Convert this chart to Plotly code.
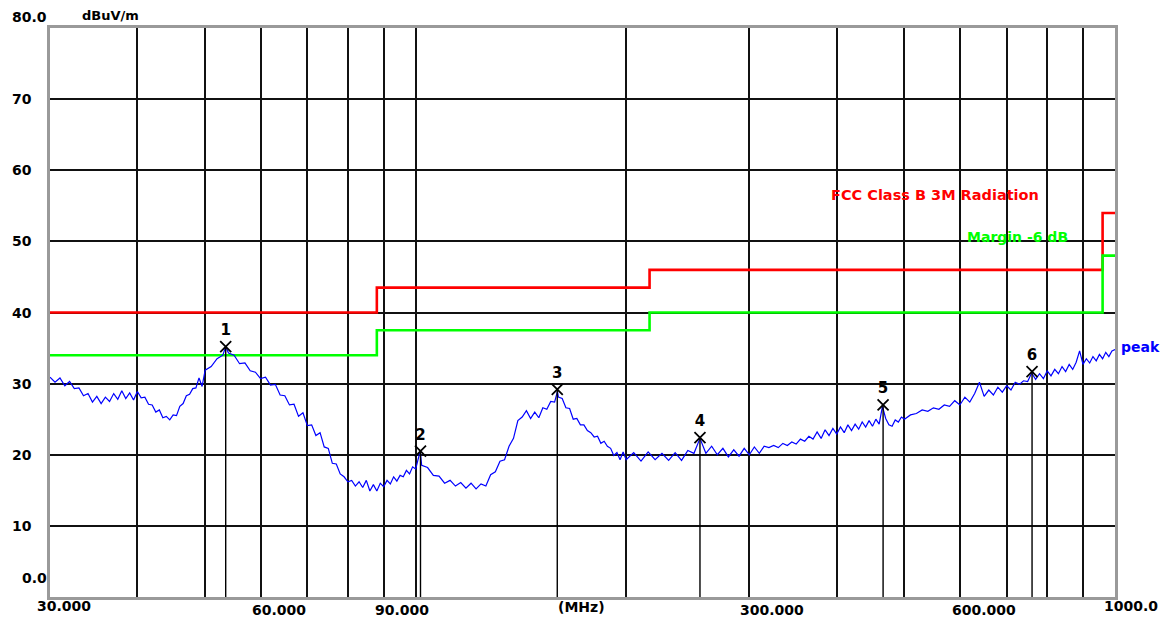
import plotly.graph_objects as go

# ---------------- data ----------------
freq_mhz = [
    30.0, 30.5, 31.0, 31.5, 32.0, 32.5, 33.0, 33.5, 34.0, 34.5, 35.0, 35.5, 36.0, 36.5, 37.0, 37.5,
    38.0, 38.5, 39.0, 39.5, 40.0, 40.5, 41.0, 41.5, 42.0, 42.5, 43.0, 43.5, 44.0, 44.5, 45.0, 45.5,
    46.0, 46.5, 47.0, 47.5, 48.0, 48.5, 49.0, 49.5, 50.0,
    51, 52, 53, 53.5, 54, 55, 56, 57, 58, 59, 60, 61, 62, 63, 64, 65, 66, 67, 68, 69, 70,
    71, 72, 73, 74, 75, 76, 77, 78, 79, 80, 81, 82, 83, 84, 85, 86, 87, 88, 89, 90,
    91, 92, 93, 94, 95, 96, 97, 98, 99, 100,
    101.5, 102, 104, 106, 108, 110, 112, 114, 116, 118, 120, 122, 124, 126, 128, 130, 132, 134,
    136, 138, 140, 142, 144, 146, 148, 150, 152, 154, 156, 158, 159.5, 160, 162, 164, 166, 168,
    170, 172, 174, 176, 178, 180, 182, 184, 186, 188, 190, 192, 194, 196, 198, 200,
    205, 210, 215, 220, 225, 230, 235, 240, 245, 250, 255, 260, 265, 270, 275, 280, 285, 290,
    295, 300, 305, 310, 315, 320, 325, 330, 335, 340, 345, 350, 355, 360, 365, 370, 375, 380,
    385, 390, 395, 400, 405, 410, 415, 420, 425, 430, 435, 440, 445, 450, 455, 460, 465, 470,
    475, 480, 485, 490, 495, 500,
    510, 520, 530, 540, 550, 560, 570, 580, 590, 600, 610, 620, 630, 640, 650, 660, 670, 680,
    690, 700, 710, 720, 730, 740, 750, 760, 770, 780, 790, 800, 810, 820, 830, 840, 850, 860,
    870, 880, 890, 900, 910, 920, 930, 940, 950, 960, 970, 980, 990, 1000,
]
peak_dbuv = [
    30.9, 30.2, 30.8, 29.7, 30.3, 29.3, 29.4, 28.3, 28.6, 27.4, 28.2, 27.2, 28.1, 27.5, 28.6, 27.8,
    29.0, 27.9, 28.7, 27.7, 28.9, 28.0, 28.1, 27.1, 27.0, 26.0, 26.3, 25.2, 25.4, 24.9, 25.6, 25.5,
    26.8, 27.2, 28.3, 28.5, 29.3, 29.4, 30.8, 29.6, 31.9,
    32.4, 33.5, 34.0, 35.2, 34.3, 34.0, 32.8, 32.9, 31.8, 31.6, 30.7, 30.9, 29.8, 29.9, 28.4, 28.3,
    27.0, 27.1, 25.4, 25.9, 24.1,
    24.2, 22.7, 23.1, 21.1, 20.9, 18.8, 18.7, 17.3, 16.9, 16.2, 16.4, 15.6, 16.2, 15.4, 16.4, 14.9,
    15.8, 14.9, 16.0, 15.5,
    16.4, 15.9, 16.9, 16.3, 17.1, 16.9, 17.8, 17.3, 18.3, 18.0,
    20.5, 18.5, 18.2, 17.1, 17.0, 16.0, 16.4, 15.6, 16.1, 15.3, 16.0, 15.2, 15.9, 15.6, 17.2, 17.6,
    19.1, 19.3,
    21.2, 22.3, 24.8, 25.3, 26.2, 25.1, 26.0, 25.2, 26.6, 26.4, 27.5, 27.4, 28.9, 28.1, 27.9, 26.6,
    26.5, 25.0,
    25.1, 24.2, 24.2, 23.4, 23.1, 22.5, 22.6, 21.6, 21.9, 21.2, 20.9, 19.9, 20.3, 19.3, 20.4, 19.3,
    20.3, 19.1, 20.4, 19.3, 20.2, 19.2, 20.3, 19.2, 20.6, 20.2, 22.3, 20.2, 21.2, 20.0, 20.9, 19.7,
    20.7, 19.8,
    20.9, 20.0, 21.1, 20.2, 21.2, 21.0, 21.3, 21.0, 21.6, 21.3, 21.8, 21.5, 22.2, 21.9, 22.6, 22.2,
    23.2, 22.3,
    23.5, 22.7, 23.7, 22.9, 23.9, 23.1, 24.2, 23.4, 24.3, 23.6, 24.6, 23.9, 24.8, 24.0, 25.0, 24.3,
    26.8, 25.1,
    24.2, 24.0, 24.9, 24.6, 25.3, 25.0,
    25.6, 25.8, 26.3, 26.1, 26.6, 26.4, 27.0, 26.8, 27.6, 27.0, 28.1, 27.4, 28.6, 30.2, 28.2, 29.1,
    28.4, 29.5,
    28.8, 29.7, 29.1, 30.2, 29.9, 30.4, 30.3, 31.5, 30.6, 31.4, 30.7, 31.8, 31.1, 32.0, 31.4, 32.4,
    31.7, 32.7,
    32.0, 33.0, 34.6, 32.7, 33.5, 32.9, 33.8, 33.2, 34.1, 33.5, 34.4, 33.8, 34.6, 34.8,
]

limit_freq = [30, 88, 216, 960, 1000]
fcc_limit = [40.0, 43.5, 46.0, 54.0, 54.0]
margin_limit = [34.0, 37.5, 40.0, 48.0, 48.0]

marker_ids = ["1", "2", "3", "4", "5", "6"]
marker_freq = [53.5, 101.6, 159.4, 255.0, 466.0, 761.0]
marker_level = [35.2, 20.5, 29.2, 22.4, 27.0, 31.7]

grid_freqs = [30, 40, 50, 60, 70, 80, 90, 100, 200, 300, 400, 500, 600, 700, 800, 900, 1000]
x_tick_text = ["30.000", "60.000", "90.000", "(MHz)", "300.000", "600.000", "1000.0"]
y_tick_values = [80, 70, 60, 50, 40, 30, 20, 10, 0]
y_tick_text = ["80.0", "70", "60", "50", "40", "30", "20", "10", "0.0"]

# ---------------- styling / layout positions ----------------
FONT = "DejaVu Sans"
L, R, T, B = 50, 51, 28, 24
W, H = 1166, 621

fig = go.Figure()

fig.add_trace(go.Scatter(x=limit_freq, y=fcc_limit, mode="lines", line_shape="hv",
                         line=dict(color="#ff0000", width=2.6), hoverinfo="skip"))
fig.add_trace(go.Scatter(x=limit_freq, y=margin_limit, mode="lines", line_shape="hv",
                         line=dict(color="#00ff00", width=2.6), hoverinfo="skip"))
fig.add_trace(go.Scatter(x=freq_mhz, y=peak_dbuv, mode="lines",
                         line=dict(color="#0000ff", width=1.2)))

# drop lines from markers to the bottom axis
dx, dy = [], []
for f, v in zip(marker_freq, marker_level):
    dx += [f, f, None]
    dy += [v, 0, None]
fig.add_trace(go.Scatter(x=dx, y=dy, mode="lines", line=dict(color="black", width=1.4),
                         hoverinfo="skip"))

fig.add_trace(go.Scatter(x=marker_freq, y=marker_level, mode="markers+text",
                         text=marker_ids, textposition="top center",
                         textfont=dict(family=FONT, size=15, color="black", weight="bold"),
                         marker=dict(symbol="x-thin", size=11, color="black",
                                     line=dict(color="black", width=1.8))))

ann = []
# y tick labels
for v, t in zip(y_tick_values, y_tick_text):
    ys = 0
    xs = -40
    if t == "80.0":
        ys = 11
    if t == "0.0":
        ys = 19
        xs = -30
    ann.append(dict(xref="paper", yref="y", x=0, y=v, xanchor="left", yanchor="middle",
                    xshift=xs, yshift=ys, text=t, showarrow=False,
                    font=dict(family=FONT, size=14, color="black", weight="bold")))

# x tick labels (left edge pixel, centre y pixel)
x_label_left = [35, 250, 373, 556, 738, 950, 1102]
x_label_cy = [606, 609.5, 609.5, 607, 609.5, 609.5, 606]
for t, lx, cy in zip(x_tick_text, x_label_left, x_label_cy):
    ann.append(dict(xref="paper", yref="paper", x=0, y=0, xanchor="left", yanchor="middle",
                    xshift=lx - L, yshift=-(cy - (H - B)), text=t, showarrow=False,
                    font=dict(family=FONT, size=14, color="black", weight="bold")))

ann.append(dict(xref="paper", yref="paper", x=0, y=1, xanchor="left", yanchor="middle",
                xshift=30, yshift=13, text="dBuV/m", showarrow=False,
                font=dict(family=FONT, size=13, color="black", weight="bold")))
ann.append(dict(xref="paper", yref="paper", x=0, y=1, xanchor="left", yanchor="middle",
                xshift=829 - L, yshift=-(195 - T), text="FCC Class B 3M Radiation", showarrow=False,
                font=dict(family=FONT, size=14.5, color="#ff0000", weight="bold")))
ann.append(dict(xref="paper", yref="paper", x=0, y=1, xanchor="left", yanchor="middle",
                xshift=965 - L, yshift=-(237 - T), text="Margin -6 dB", showarrow=False,
                font=dict(family=FONT, size=14, color="#00ff00", weight="bold")))
ann.append(dict(xref="paper", yref="paper", x=1, y=1, xanchor="left", yanchor="middle",
                xshift=4, yshift=-(346.5 - T), text="peak", showarrow=False,
                font=dict(family=FONT, size=14, color="#0000ff", weight="bold")))

fig.update_layout(
    width=W, height=H,
    margin=dict(l=L, r=R, t=T, b=B, pad=0),
    paper_bgcolor="white", plot_bgcolor="white",
    showlegend=False,
    annotations=ann,
    xaxis=dict(type="log", range=[1.4771213, 3.0], tickvals=grid_freqs, showticklabels=False,
               ticks="", showgrid=True, gridcolor="#111111", gridwidth=1.6, zeroline=False,
               showline=True, linecolor="#9a9a9a", linewidth=3, mirror=True),
    yaxis=dict(range=[0, 80], tickvals=[0, 10, 20, 30, 40, 50, 60, 70, 80], showticklabels=False,
               ticks="", showgrid=True, gridcolor="#111111", gridwidth=1.6, zeroline=False,
               showline=True, linecolor="#9a9a9a", linewidth=3, mirror=True),
)

fig.write_html("out.html")
